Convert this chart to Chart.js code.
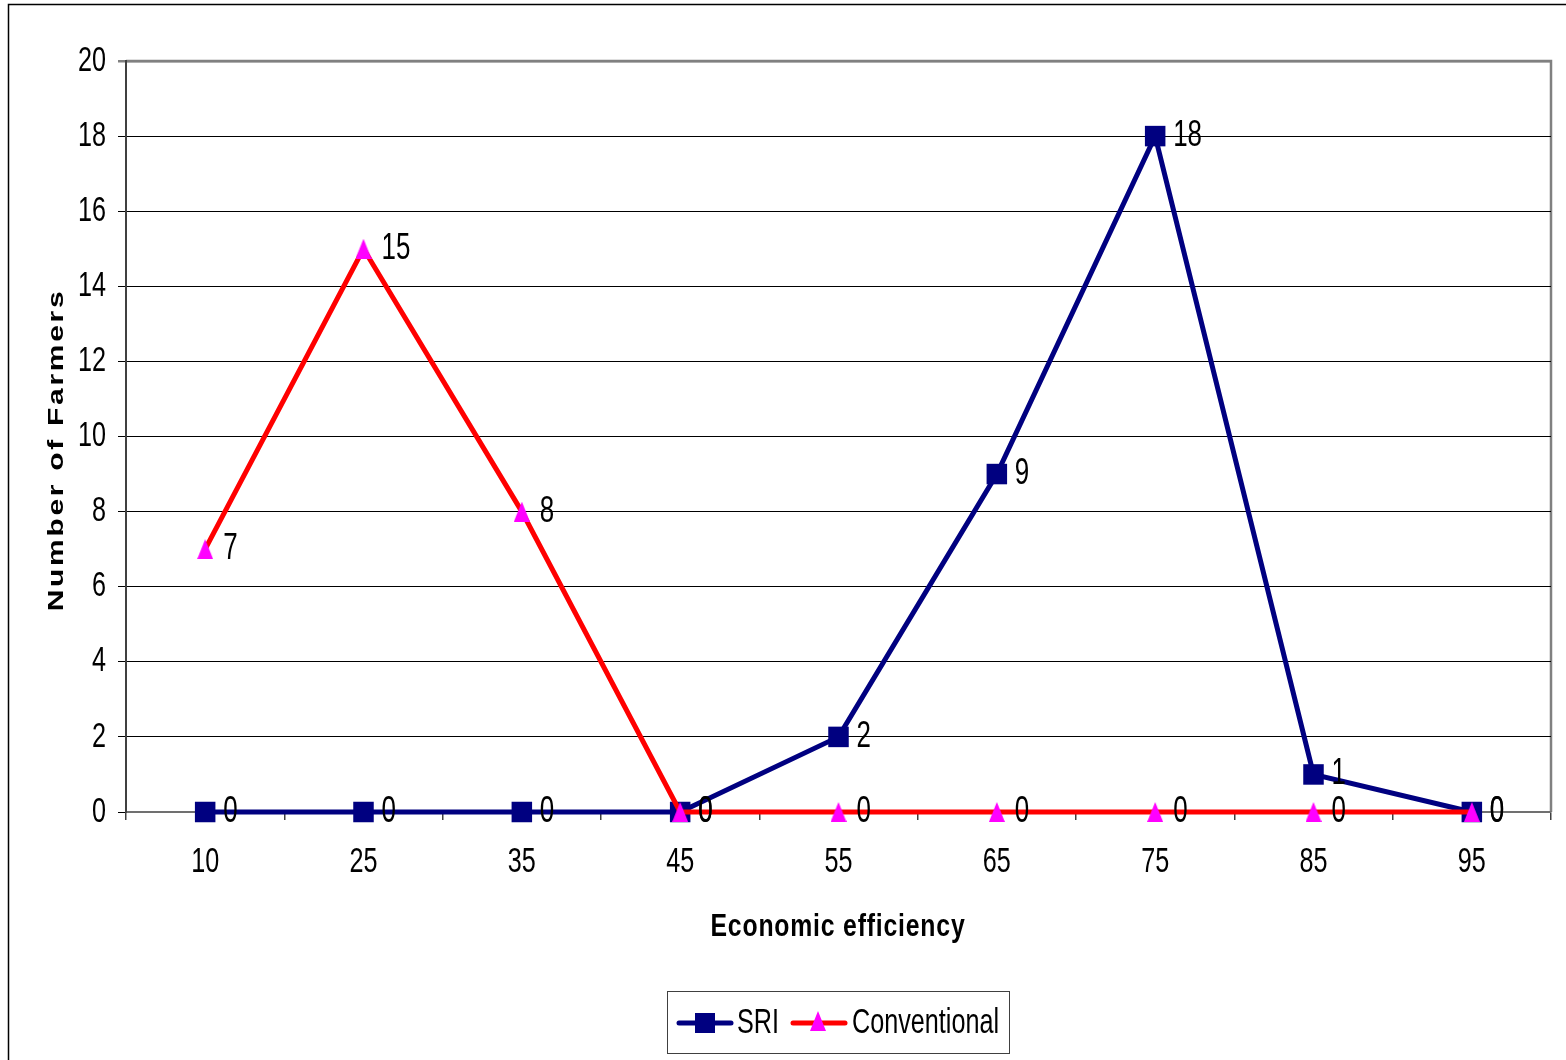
<!DOCTYPE html>
<html>
<head>
<meta charset="utf-8">
<script src="https://cdn.jsdelivr.net/npm/chart.js@4.4.1/dist/chart.umd.min.js"></script>
<style>
  html, body { margin: 0; padding: 0; background: #fff; }
  #wrap { width: 1566px; height: 1060px; position: relative; }
</style>
</head>
<body>
<div id="wrap"><canvas id="c" width="1566" height="1060"></canvas></div>
<script>
// Efficiency classes (category axis)
const categories = ['10', '25', '35', '45', '55', '65', '75', '85', '95'];
// Number of farmers per class
const sriValues = [0, 0, 0, 0, 2, 9, 18, 1, 0];
const conventionalValues = [7, 15, 8, 0, 0, 0, 0, 0, 0];
const seriesNames = ['SRI', 'Conventional'];
// Y axis range and step
const yMin = 0, yMax = 20, yStep = 2;
const xTitle = 'Economic efficiency';
const yTitle = 'Number of Farmers';

const FONT = '"Liberation Sans", Arial, sans-serif';
const TEXT_SX = 0.72;          // narrow lettering: horizontal squeeze of every glyph
const TITLE_SX = 0.8;          // titles are squeezed less
const NAVY = '#000080';
const RED = '#FF0000';
const MAGENTA = '#FF00FF';

const canvas = document.getElementById('c');
const ctx2d = canvas.getContext('2d');

// All text on this canvas is drawn horizontally condensed
const rawFillText = ctx2d.fillText;
let squeeze = TEXT_SX;
ctx2d.fillText = function (text, x, y, maxWidth) {
  this.save();
  this.translate(x, y);
  this.scale(squeeze, 1);
  if (maxWidth !== undefined) rawFillText.call(this, text, 0, 0, maxWidth / squeeze);
  else rawFillText.call(this, text, 0, 0);
  this.restore();
};

// Triangle marker drawn once as an image
function makeTriangle(w, h, color) {
  const cv = document.createElement('canvas');
  cv.width = w; cv.height = h;
  const g = cv.getContext('2d');
  g.fillStyle = color;
  g.beginPath();
  g.moveTo(w / 2, 0);
  g.lineTo(w, h);
  g.lineTo(0, h);
  g.closePath();
  g.fill();
  return cv;
}
const triangle = makeTriangle(16, 20, MAGENTA);

// Frame around the whole figure and the plot area outline
const framePlugin = {
  id: 'frame',
  beforeDraw(chart) {
    const { ctx, chartArea: a } = chart;
    ctx.save();
    ctx.strokeStyle = '#000';
    ctx.lineWidth = 1.5;
    ctx.strokeRect(8.5, 4.5, 1600, 1100);
    ctx.strokeStyle = '#808080';
    ctx.lineWidth = 2.5;
    ctx.beginPath();
    ctx.moveTo(a.left, a.top);
    ctx.lineTo(a.right, a.top);
    ctx.lineTo(a.right, a.bottom);
    ctx.stroke();
    ctx.restore();
  }
};

// Value labels to the right of each point
const valueLabels = {
  id: 'valueLabels',
  afterDatasetsDraw(chart) {
    const { ctx } = chart;
    ctx.save();
    ctx.font = '36px ' + FONT;
    ctx.fillStyle = '#000';
    ctx.textAlign = 'left';
    ctx.textBaseline = 'middle';
    chart.data.datasets.forEach((ds, i) => {
      const meta = chart.getDatasetMeta(i);
      meta.data.forEach((pt, j) => {
        ctx.fillText(String(ds.data[j]), pt.x + 18, pt.y);
      });
    });
    ctx.restore();
  }
};

// Axis titles and the boxed legend
const annotations = {
  id: 'annotations',
  afterDraw(chart) {
    const { ctx } = chart;
    ctx.save();
    ctx.fillStyle = '#000';
    ctx.font = 'bold 31px ' + FONT;
    ctx.textAlign = 'center';
    ctx.textBaseline = 'middle';
    if ('letterSpacing' in ctx) ctx.letterSpacing = '1px';
    squeeze = TITLE_SX;
    ctx.fillText(xTitle, 838, 927);
    squeeze = TEXT_SX;
    ctx.restore();

    // rotated title: glyphs squeezed across the line of text
    ctx.save();
    ctx.fillStyle = '#000';
    ctx.font = 'bold 30px ' + FONT;
    ctx.textAlign = 'center';
    ctx.textBaseline = 'middle';
    if ('letterSpacing' in ctx) ctx.letterSpacing = '2.7px';
    ctx.translate(57, 450);
    ctx.rotate(-Math.PI / 2);
    ctx.scale(1, 0.76);
    rawFillText.call(ctx, yTitle, 0, 0);
    ctx.restore();

    // legend
    ctx.save();
    ctx.strokeStyle = '#404040';
    ctx.lineWidth = 1;
    ctx.strokeRect(667.5, 991.5, 342, 62);
    const cy = 1023;
    ctx.font = '35px ' + FONT;
    ctx.textBaseline = 'middle';
    ctx.textAlign = 'left';
    ctx.lineCap = 'round';
    const d0 = chart.data.datasets[0];
    ctx.strokeStyle = d0.borderColor;
    ctx.lineWidth = 5;
    ctx.beginPath(); ctx.moveTo(679, cy); ctx.lineTo(731, cy); ctx.stroke();
    ctx.fillStyle = d0.pointBackgroundColor;
    ctx.fillRect(695, cy - 10, 20, 20);
    ctx.fillStyle = '#000';
    ctx.fillText(d0.label, 737, cy);
    const d1 = chart.data.datasets[1];
    ctx.strokeStyle = d1.borderColor;
    ctx.beginPath(); ctx.moveTo(793, cy); ctx.lineTo(845, cy); ctx.stroke();
    ctx.drawImage(triangle, 810, cy - 12);
    ctx.fillStyle = '#000';
    ctx.fillText(d1.label, 852, cy);
    ctx.restore();
  }
};

new Chart(canvas, {
  type: 'line',
  data: {
    labels: categories,
    datasets: [
      {
        label: seriesNames[0],
        data: sriValues,
        borderColor: NAVY,
        borderWidth: 5,
        pointStyle: 'rect',
        pointRadius: 14.5,
        pointBackgroundColor: NAVY,
        pointBorderColor: NAVY,
        pointBorderWidth: 0,
        tension: 0,
        clip: false,
        order: 2
      },
      {
        label: seriesNames[1],
        data: conventionalValues,
        borderColor: RED,
        borderWidth: 5,
        pointStyle: triangle,
        pointRadius: 10,
        pointBackgroundColor: MAGENTA,
        pointBorderColor: MAGENTA,
        tension: 0,
        clip: false,
        order: 1
      }
    ]
  },
  options: {
    responsive: false,
    animation: false,
    devicePixelRatio: 1,
    layout: { padding: { left: 0, top: 61, right: 15, bottom: 0 } },
    plugins: {
      legend: { display: false },
      tooltip: { enabled: false }
    },
    scales: {
      x: {
        type: 'category',
        offset: true,
        afterFit(scale) { scale.height = 248; },
        grid: {
          offset: true,
          drawOnChartArea: false,
          drawTicks: true,
          tickLength: 8,
          color: '#404040',
          lineWidth: 1.5
        },
        border: { display: true, color: '#707070', width: 2 },
        ticks: {
          color: '#000',
          font: { family: FONT, size: 35 },
          padding: 21,
          maxRotation: 0
        }
      },
      y: {
        min: yMin,
        max: yMax,
        afterFit(scale) { scale.width = 126; },
        grid: {
          color: (c) => (c.tick && c.tick.value === yMax) ? '#808080' : '#000',
          lineWidth: (c) => (c.tick && c.tick.value === yMax) ? 2.5 : 1,
          tickLength: 8,
          drawTicks: true
        },
        border: { display: true, color: '#404040', width: 2 },
        ticks: {
          stepSize: yStep,
          color: '#000',
          font: { family: FONT, size: 35 },
          padding: 12
        }
      }
    }
  },
  plugins: [framePlugin, valueLabels, annotations]
});
</script>
</body>
</html>
